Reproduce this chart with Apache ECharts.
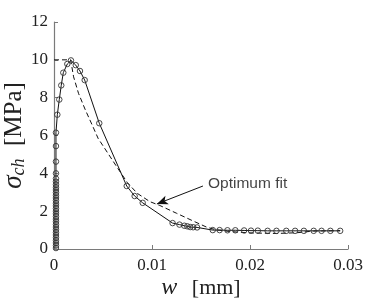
<!DOCTYPE html>
<html>
<head>
<meta charset="utf-8">
<script src="https://cdn.jsdelivr.net/npm/echarts@6/dist/echarts.min.js"></script>
<style>html,body{margin:0;padding:0;background:#fff}#c{width:386px;height:305px}</style>
</head>
<body>
<div id="c"></div>
<script>
// Measured data (w [mm], sigma_ch [MPa])
const measW = [0.0002,0.0002,0.0002,0.0002,0.0002,0.0002,0.0002,0.0002,0.0002,0.0002,0.0002,0.0002,0.0002,0.0002,0.0002,0.0002,0.0002,0.0002,0.0002,0.0002,0.0002,0.0002,0.0002,0.0002,0.0002,0.0002,0.0002,0.0002,0.0002,0.0002,0.0002,
  0.00034,0.00054,0.00074,0.00095,0.00136,0.00173,0.00222,0.00265,0.00313,0.00462,0.00742,0.00823,0.00905,
  0.0121,0.0128,0.0133,0.0136,0.0139,0.0142,0.0146,
  0.0162,0.0169,0.0177,0.0185,0.0194,0.0201,0.0208,0.0218,0.0227,0.0237,0.0246,0.0255,0.0265,0.0273,0.0282,0.0292];
const measS = [0.05,0.18,0.32,0.46,0.6,0.74,0.88,1.02,1.16,1.3,1.44,1.58,1.72,1.86,2.0,2.14,2.28,2.42,2.56,2.7,2.84,2.98,3.12,3.26,3.4,3.56,3.72,4.0,4.62,5.44,6.15,
  7.1,7.9,8.65,9.32,9.78,9.97,9.72,9.41,8.93,6.65,3.33,2.8,2.44,
  1.37,1.29,1.23,1.2,1.16,1.15,1.14,
  1.0,1.0,0.99,0.99,0.98,0.97,0.97,0.96,0.96,0.96,0.96,0.96,0.96,0.96,0.96,0.96];
// Optimum fit curve
const fitW = [0,0.0017,0.0020,0.0025,0.0032,0.0039,0.0045,0.0064,0.0075,0.0085,0.0098,0.0108,0.0125,0.0142,0.0156,0.0165,0.018,0.020,0.0227,0.0248,0.0265,0.0292];
const fitS = [10,10,9.1,8.23,7.35,6.55,5.85,4.35,3.5,2.94,2.5,2.3,1.89,1.48,1.15,1.02,0.92,0.85,0.82,0.86,0.95,0.97];
// Annotation
const annoText = 'Optimum fit';
const annoFrom = [0.0152, 3.33];
const annoTo = [0.0105, 2.38];
const xTicks = {min:0, max:0.03, interval:0.01};
const yTicks = {min:0, max:12, interval:2};

const chart = echarts.init(document.getElementById('c'), null, {renderer:'canvas'});
const serif = 'Liberation Serif';
const axisCommon = {
  axisLine:{show:true, lineStyle:{color:'#7a7a7a', width:1.2}},
  axisTick:{show:true, inside:true, length:4, lineStyle:{color:'#7a7a7a'}},
  splitLine:{show:false},
};
chart.setOption({
  animation:false,
  backgroundColor:'#fff',
  grid:{left:54, right:38, top:22, bottom:56, containLabel:false, outerBoundsMode:'none'},
  xAxis:Object.assign({
    type:'value', min:xTicks.min, max:xTicks.max, interval:xTicks.interval,
    axisLabel:{fontFamily:serif, fontSize:17, color:'#222', margin:8},
    name:'{i|w} [mm]', nameLocation:'middle', nameGap:27, nameMoveOverlap:false,
    nameTextStyle:{fontFamily:serif, fontSize:22, color:'#222',
      rich:{i:{fontFamily:serif, fontStyle:'italic', fontSize:24, color:'#222', padding:[0,9,0,0]}}}
  }, axisCommon),
  yAxis:Object.assign({
    type:'value', min:yTicks.min, max:yTicks.max, interval:yTicks.interval,
    axisLabel:{fontFamily:serif, fontSize:17, color:'#222', margin:6},
    name:'{i|σ}{s|ch}  [MPa]', nameLocation:'middle', nameGap:26, nameRotate:90, nameMoveOverlap:false,
    nameTextStyle:{fontFamily:serif, fontSize:25, color:'#222',
      rich:{i:{fontFamily:serif, fontStyle:'italic', fontSize:27, color:'#222'},
            s:{fontFamily:serif, fontStyle:'italic', fontSize:18, color:'#222', padding:[10,0,0,0]}}}
  }, axisCommon),
  series:[
    {
      type:'line', data:fitW.map((w,i)=>[w,fitS[i]]), showSymbol:false, symbol:'none',
      lineStyle:{color:'#111', width:1, type:[5,3]}, z:2
    },
    {
      type:'line', data:measW.map((w,i)=>[w,measS[i]]), symbol:'circle', symbolSize:5.5,
      showAllSymbol:true,
      itemStyle:{color:'rgba(255,255,255,0)', borderColor:'#333', borderWidth:0.9},
      lineStyle:{color:'#111', width:1}, z:3,
      markLine:{
        silent:true, symbol:['none','arrow'], symbolSize:[7,11],
        lineStyle:{color:'#111', width:1, type:'solid'}, label:{show:false},
        data:[[{coord:annoFrom},{coord:annoTo}]]
      }
    },
    {
      type:'scatter', data:[annoFrom], symbolSize:0,
      label:{show:true, position:'right', distance:5, formatter:annoText,
        fontFamily:'Liberation Sans', fontSize:15.5, color:'#111', offset:[0,-2]}
    }
  ]
});
</script>
</body>
</html>
